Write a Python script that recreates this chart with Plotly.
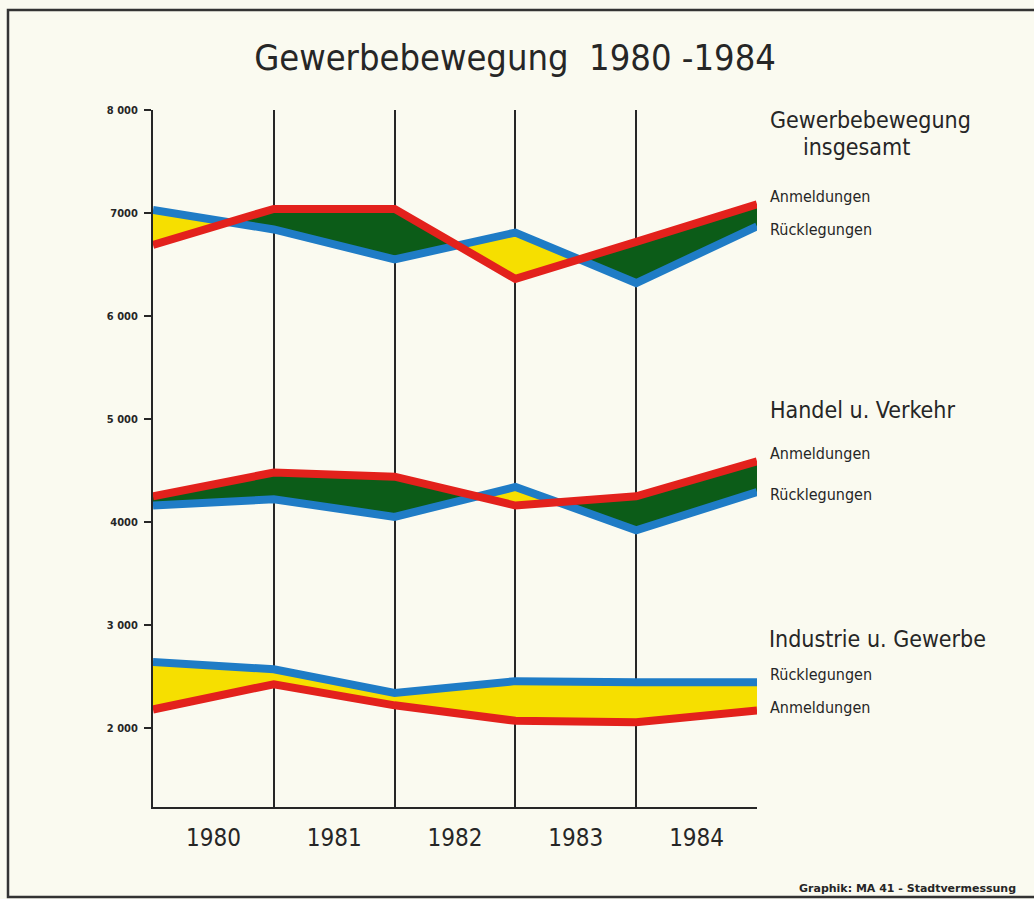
import plotly.graph_objects as go

# --- data ----------------------------------------------------------------
years = ["1980", "1981", "1982", "1983", "1984"]
x_points = [0, 1, 2, 3, 4, 5]          # year boundaries (start 1980 ... end 1984)
y_tick_values = [2000, 3000, 4000, 5000, 6000, 7000, 8000]
y_tick_labels = ["2 000", "3 000", "4000", "5 000", "6 000", "7000", "8 000"]

gesamt_anm = [6690, 7040, 7040, 6360, 6720, 7085]
gesamt_rueck = [7030, 6840, 6550, 6810, 6320, 6870]
handel_anm = [4250, 4480, 4440, 4160, 4250, 4590]
handel_rueck = [4160, 4220, 4050, 4340, 3920, 4290]
industrie_anm = [2180, 2425, 2220, 2070, 2055, 2170]
industrie_rueck = [2640, 2570, 2340, 2455, 2445, 2445]

BG = "#fafaf0"
INK = "#262626"
BLUE = "#1f7cc6"
RED = "#e3211c"
YELLOW = "#f6df00"
GREEN = "#0c5c18"
FONT = "DejaVu Sans Condensed, Liberation Sans Narrow, DejaVu Sans, sans-serif"

# plot area in pixels (used only for layout placement)
L, R, T, B = 153, 757, 110, 807


def px(x):
    return (x - L) / (R - L)


def py(y):
    return (B - y) / (B - T)


def band_shapes(anm, rueck):
    """Split the band between two series into same-colour polygons."""
    shapes = []
    cur = None
    for i in range(len(x_points) - 1):
        xa, xb = x_points[i], x_points[i + 1]
        a0, a1 = anm[i], anm[i + 1]
        r0, r1 = rueck[i], rueck[i + 1]
        d0, d1 = a0 - r0, a1 - r1
        if d0 * d1 < 0:
            t = d0 / (d0 - d1)
            xc = xa + t * (xb - xa)
            yc = a0 + t * (a1 - a0)
            pieces = [(d0, (xa, a0, r0), (xc, yc, yc)), (d1, (xc, yc, yc), (xb, a1, r1))]
        else:
            pieces = [(d0 if d0 != 0 else d1, (xa, a0, r0), (xb, a1, r1))]
        for d, p, q in pieces:
            col = GREEN if d > 0 else YELLOW
            if cur is not None and cur[0] == col:
                cur[1].append(q)
            else:
                cur = [col, [p, q]]
                shapes.append(cur)
    return shapes


fig = go.Figure()

groups = [
    (gesamt_anm, gesamt_rueck),
    (handel_anm, handel_rueck),
    (industrie_anm, industrie_rueck),
]

for anm, rueck in groups:
    for col, pts in band_shapes(anm, rueck):
        xs = [p[0] for p in pts] + [p[0] for p in reversed(pts)]
        ys = [p[1] for p in pts] + [p[2] for p in reversed(pts)]
        fig.add_trace(go.Scatter(
            x=xs, y=ys, mode="lines", fill="toself", fillcolor=col,
            line=dict(width=0, color=col), hoverinfo="skip", showlegend=False,
        ))

for anm, rueck in groups:
    fig.add_trace(go.Scatter(x=x_points, y=rueck, mode="lines",
                             line=dict(color=BLUE, width=8), showlegend=False))
    fig.add_trace(go.Scatter(x=x_points, y=anm, mode="lines",
                             line=dict(color=RED, width=8), showlegend=False))

fig.update_xaxes(
    range=[0, 5],
    tickvals=[i + 0.5 for i in range(len(years))],
    ticktext=years,
    ticks="",
    tickfont=dict(family=FONT, size=24, color=INK),
    ticklabelstandoff=8,
    showline=True, linecolor=INK, linewidth=2,
    showgrid=False, zeroline=False,
    minor=dict(tickvals=x_points, showgrid=True, gridcolor=INK, gridwidth=1.5, ticks=""),
)
fig.update_yaxes(
    range=[1233, 8000],
    tickvals=y_tick_values,
    ticktext=y_tick_labels,
    ticks="outside", ticklen=7, tickwidth=2, tickcolor=INK,
    tickfont=dict(family="DejaVu Sans Condensed, DejaVu Sans", size=11, color=INK, weight="bold"),
    ticklabelstandoff=4,
    showline=True, linecolor=INK, linewidth=2,
    showgrid=False, zeroline=False,
)

side_labels = [
    ("Gewerbebewegung", 768, 120, 23),
    ("insgesamt", 801, 147, 23),
    ("Anmeldungen", 768, 196, 16),
    ("Rücklegungen", 768, 229, 16),
    ("Handel u. Verkehr", 768, 410, 23),
    ("Anmeldungen", 768, 453, 16),
    ("Rücklegungen", 768, 494, 16),
    ("Industrie u. Gewerbe", 767, 639, 23),
    ("Rücklegungen", 768, 674, 16),
    ("Anmeldungen", 768, 707, 16),
]
annotations = [
    dict(text=t, x=px(x), y=py(y), xref="paper", yref="paper",
         xanchor="left", yanchor="middle", showarrow=False,
         font=dict(family=FONT, size=s, color=INK))
    for t, x, y, s in side_labels
]
annotations.append(dict(
    text="Graphik: MA 41 - Stadtvermessung", x=px(1018), y=py(888),
    xref="paper", yref="paper", xanchor="right", yanchor="middle", showarrow=False,
    font=dict(family="DejaVu Sans", size=11, color=INK, weight="bold"),
))

# picture frame (left, top, bottom edges)
frame = dict(type="path", xref="paper", yref="paper",
             path=f"M {px(1040)} {py(10)} L {px(8)} {py(10)} L {px(8)} {py(897)} L {px(1040)} {py(897)}",
             line=dict(color="#333333", width=2.5))

fig.update_layout(
    width=1034, height=899,
    margin=dict(l=L, r=1034 - R, t=T, b=899 - B),
    paper_bgcolor=BG, plot_bgcolor=BG,
    title=dict(text="Gewerbebewegung\u00a0\u00a01980 -1984", x=515 / 1034, y=1 - 57 / 899,
               xanchor="center", yanchor="middle",
               font=dict(family=FONT, size=36, color=INK)),
    annotations=annotations,
    shapes=[frame],
    showlegend=False,
)

fig.write_html(
    "out.html",
    config={"displayModeBar": False},
    post_script="document.body.style.margin='0';document.body.style.overflow='hidden';",
)
